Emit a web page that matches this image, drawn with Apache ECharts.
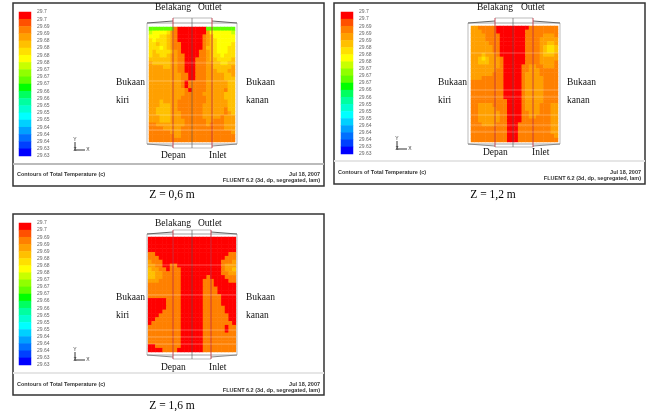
<!DOCTYPE html>
<html>
<head>
<meta charset="utf-8">
<style>
  html, body { margin: 0; background: #fff; }
  /* the reference is a soft scan-like bitmap */
  #chart { width: 648px; height: 411px; filter: blur(0.45px); }
</style>
<script src="https://cdn.jsdelivr.net/npm/echarts@6/dist/echarts.min.js"></script>
</head>
<body>
<div id="chart"></div>
<script>
// colour band letters, a = hottest band at the top of the legend
const bandLetters = 'abcdefghijklmnopqrst'.split('')
const bandColors = ['#ff0000', '#ff5000', '#ff8000', '#ffa000', '#ffc000', '#ffe000', '#ffff00', '#c8ff00', '#90ff00', '#60ff00',
  '#00ff00', '#00ff60', '#00ffa0', '#00ffd0', '#00ffff', '#00d0ff', '#00a0ff', '#0070ff', '#0040ff', '#0000ff']

const ticks06 = ['29.7', '29.7', '29.69', '29.69', '29.68', '29.68', '29.68', '29.68', '29.67', '29.67', '29.67',
  '29.66', '29.66', '29.65', '29.65', '29.65', '29.64', '29.64', '29.64', '29.63', '29.63']
const ticks12 = ['29.7', '29.7', '29.69', '29.69', '29.69', '29.68', '29.68', '29.68', '29.67', '29.67', '29.67',
  '29.66', '29.66', '29.65', '29.65', '29.65', '29.64', '29.64', '29.64', '29.63', '29.63']
const ticks16 = ['29.7', '29.7', '29.69', '29.69', '29.69', '29.68', '29.68', '29.68', '29.67', '29.67', '29.67',
  '29.66', '29.66', '29.65', '29.65', '29.65', '29.64', '29.64', '29.64', '29.63', '29.63']

// temperature bands, one string per row, top row first
const field06 = [
  'jjjjjjjcaaaaaaaajjjjjjjj',
  'hggggfdcaaaaaaaadggggggh',
  'gggffedcaaaaaaacdegggggg',
  'fgfffedcaaaaaaacdefggggg',
  'ffeffedccaaaaaacdefggggf',
  'fffgfedccaaaaaaceefgggff',
  'feffffedcaaaaaccdefgggff',
  'feeffeddccaaaaccdeffgfff',
  'eeeeeeddccaaacccdeeffffe',
  'deeeeeddccaaacccddeeffee',
  'ddddeeddccaaacccddeeeeed',
  'ddddddddccaaacccdddeeedd',
  'dddddddddccaacccdddddeed',
  'dddddddddccaacccdddddeee',
  'dddddddddcacccccddddddee',
  'dddddddddcacccccddddddee',
  'ddddddddddcaccccdddddcee',
  'ddddddddddcccccddddddeee',
  'dddddddddcccccccdddddeee',
  'dddeddddccccccccddddddee',
  'dddeeeddcccccccdddddddee',
  'ddeeeeddcccccccddddddcee',
  'ddeeeedddccccccddddddcde',
  'dddeeedddccccccdddddcddd',
  'dddeeeddddccccccddcccddd',
  'ccddddddddccccccdccccddd',
  'ccccdddddccccccccccccddd',
  'ccccccdddccccccccccccccd',
  'cccccccddccccccccccccccc',
  'cccccccccccccccccccccccc'
]
const field12 = [
  'ddcccccaaaaaaaaacccccccc',
  'dddccccaaaaaaaaccccccccc',
  'ddddccccaaaaaaacccccdddc',
  'ddddccccaaaaaaaccccddddd',
  'dddddcccaaaaaaaccccddeed',
  'ddddddccaaaaaaaccccdeffe',
  'ddddddccaaaaaaaccccdeffe',
  'dddedddcaaaaaaaccccdeeed',
  'ddefedddcaaaaaaccccddddd',
  'ddeeedddcaaaaaaccccddddc',
  'ddddddddcaaaaaccddccdddc',
  'dddddddccaaaaaccdddccccc',
  'ddddddcccaaaaacddddccccc',
  'dddccccccaaaaacdddddcccc',
  'cccccccccaaaaacdddddcccc',
  'cccccccccaaaaacdddddcccc',
  'cccccccccaaaaacdddddcccc',
  'cccccccccaaaaacdddddcccc',
  'cccccccccaaaaacdddddcccc',
  'ccccccccccaaaacdddddcccc',
  'ccddddccccaaaacddddcccdd',
  'ccdddddcccaaaacddddcccdd',
  'ccddddddccaaaaccdddcccdd',
  'ccddddddccaaaaccddccccdd',
  'ccddddddccaaaaccccccccdd',
  'cccddddcccaaacccccccccdd',
  'ccccccccccaaacccccccccdd',
  'ccccccccccaaacccccccccdd',
  'ccccccccccaaaccccccccccd',
  'ccccccccccaaaccccccccccc'
]
const field16 = [
  'aaaaaaaaaaaaaaaaaaaaaaaa',
  'aaaaaaaaaaaaaaaaaaaaaaaa',
  'aaaaaaaaaaaaaaaaaaaaaaaa',
  'aaaaaaaaaaaaaaaaaaaaaaaa',
  'ccaaaaaaaaaaaaaaaaaaaacc',
  'cccaaaaaaaaaaaaaaaaaaccc',
  'dcccaaaaaaaaaaaaaaaacccd',
  'ddccaaccaaaaaaaaaaaacddd',
  'eddccacccaaaaaaaaaaacdde',
  'eeddcccccaaaaaaaaaaaccdd',
  'eeddcccccaaaaaaacaaaaccc',
  'dddccccccaaaaaacccaaaacc',
  'cccccccccaaaaaacccaaaaaa',
  'cccccccccaaaaaaccccaaaaa',
  'cccccccccaaaaaaccccaaaaa',
  'cccccccccaaaaaacccccaaaa',
  'aaaaaccccaaaaaacccccaaaa',
  'aaaaaccccaaaaaacccccaaaa',
  'aaaaaccccaaaaaaccccccaaa',
  'aaaacccccaaaaaaccccccaaa',
  'aaaccccccaaaaaacccccccaa',
  'aacccccccaaaaaacccccccaa',
  'accccccccaaaaaacccccccca',
  'cccccccccaaaaaaccccccacc',
  'cccccccccaaaaaaccccccacc',
  'cccccccccaaaaaaccccccccc',
  'cccccccccaaaaaaccccccccc',
  'cccccccccaaaaaaccccccccc',
  'aacccccccaaaaaaccccccccc',
  'aaaaccccaaaaaaaccccccccc'
]

const panels = [
  { field: field06, ticks: ticks06, caption: 'Z = 0,6 m', box: [13, 3, 311, 183], sep: 164, sepColor: '#bbb', bar: [19, 12, 12, 144], map: [149, 27, 86, 115], capX: 172, capY: 195, wire: [147, 237, 23, 144, 173, 212, 192, 18, 148], axes: [75, 150], belakang: [155, 198, 7], depan: [161, 209, 155], side: [116, 246, 82, 100], whites: [63, 81, 115, 125, 130], leftY: 174 },
  { field: field12, ticks: ticks12, caption: 'Z = 1,2 m', box: [334, 3, 311, 181], sep: 161, sepColor: '#e6e6e6', bar: [341, 12, 12, 142], map: [471, 26, 87, 116], capX: 493, capY: 195, wire: [468, 560, 23, 144, 495, 533, 513, 18, 147], axes: [397, 149], belakang: [477, 521, 7], depan: [483, 532, 152], side: [438, 567, 82, 100], whites: [53, 90, 97, 115, 125, 132], leftY: 172 },
  { field: field16, ticks: ticks16, caption: 'Z = 1,6 m', box: [13, 214, 311, 181], sep: 373, sepColor: '#e6e6e6', bar: [19, 223, 12, 142], map: [148, 237, 88, 115], capX: 172, capY: 406, wire: [147, 237, 234, 355, 173, 211, 192, 230, 359], axes: [75, 360], belakang: [155, 198, 223], depan: [161, 209, 367], side: [116, 246, 297, 315], whites: [265, 295, 330, 337, 344], leftY: 384 }
]

const range = n => Array.from({ length: n }, (_, i) => i)
const serif = '"Liberation Serif", serif'
const sans = '"Liberation Sans", sans-serif'

const grid = [], xAxis = [], yAxis = [], series = [], graphic = []

const hiddenAxis = (n, gridIndex, extra) => Object.assign({ type: 'category', data: range(n), gridIndex, show: false }, extra)

const text = (x, y, str, font, size, color, align, weight) => ({
  type: 'text', x, y, z: 20, silent: true,
  style: { text: str, fill: color, fontFamily: font, fontSize: size, fontWeight: weight || 'normal', align: align || 'left', verticalAlign: 'middle' }
})
const line = (x1, y1, x2, y2, stroke, width, opacity) => ({
  type: 'line', z: 10, silent: true,
  shape: { x1, y1, x2, y2 }, style: { stroke, lineWidth: width || 1, opacity: opacity === undefined ? 1 : opacity }
})

panels.forEach(p => {
  const [bx, by, bw, bh] = p.box
  graphic.push({ type: 'rect', z: 9, silent: true, shape: { x: bx, y: by, width: bw, height: bh }, style: { fill: 'none', stroke: '#333', lineWidth: 1.5 } })
  graphic.push(line(bx, p.sep, bx + bw, p.sep, p.sepColor, 2))

  // legend: 20 colour cells, 21 tick labels on the band edges
  const barGrid = grid.length
  grid.push({ left: p.bar[0], top: p.bar[1], width: p.bar[2], height: p.bar[3] })
  xAxis.push(hiddenAxis(1, barGrid))
  const barAxis = yAxis.length
  yAxis.push(hiddenAxis(20, barGrid, { inverse: true }))
  yAxis.push({
    type: 'category', data: p.ticks, gridIndex: barGrid, position: 'right', inverse: true, boundaryGap: false,
    axisLine: { show: false }, axisTick: { show: false },
    axisLabel: { interval: 0, margin: 6, fontSize: 5, color: '#666', fontFamily: sans }
  })
  series.push({
    type: 'heatmap', xAxisIndex: barGrid, yAxisIndex: barAxis, silent: true,
    data: range(20).map(i => [0, i, i])
  })

  // contour field
  const mapGrid = grid.length
  grid.push({ left: p.map[0], top: p.map[1], width: p.map[2], height: p.map[3] })
  xAxis.push(hiddenAxis(24, mapGrid))
  const mapAxis = yAxis.length
  yAxis.push(hiddenAxis(p.field.length, mapGrid, { inverse: true }))
  const cells = []
  p.field.forEach((row, r) => row.split('').forEach((ch, c) => cells.push([c, r, bandLetters.indexOf(ch)])))
  series.push({ type: 'heatmap', xAxisIndex: mapGrid, yAxisIndex: mapAxis, silent: true, data: cells })

  // wireframe of the room over the contours
  const [wl, wr, wt, wb, rl, rr, mid, vt, vb] = p.wire
  graphic.push(line(wl, wt, wr, wt, '#aaa'), line(wl, wb, wr, wb, '#aaa'), line(wl, wt, wl, wb, '#bbb'), line(wr, wt, wr, wb, '#bbb'))
  graphic.push(line(wl, wt, rl, wt - 2, '#666'), line(rr, wt - 2, wr, wt, '#666'), line(wl, wb, rl, wb + 2, '#888'), line(rr, wb + 2, wr, wb, '#888'))
  graphic.push(line(rl, vt, rr, vt, '#bbb'), line(rl, vb, rr, vb, '#bbb'), line(rl, wt, rr, wt, '#ccc'), line(rl, wb, rr, wb, '#ccc'))
  graphic.push(line(rl, vt, rl, vb, '#c03040', 1, 0.85), line(rr, vt, rr, vb, '#c03040', 1, 0.85), line(mid, vt, mid, vb, '#555', 1, 0.6))
  p.whites.forEach(y => graphic.push(line(p.map[0], y, p.map[0] + p.map[2], y, '#fff', 1, 0.3)))

  // room labels
  graphic.push(text(p.belakang[0], p.belakang[2], 'Belakang', serif, 9.5, '#111'))
  graphic.push(text(p.belakang[1], p.belakang[2], 'Outlet', serif, 9.5, '#111'))
  graphic.push(text(p.depan[0], p.depan[2], 'Depan', serif, 9.5, '#111'))
  graphic.push(text(p.depan[1], p.depan[2], 'Inlet', serif, 9.5, '#111'))
  graphic.push(text(p.side[0], p.side[2], 'Bukaan', serif, 9.5, '#111'))
  graphic.push(text(p.side[0], p.side[3], 'kiri', serif, 9.5, '#111'))
  graphic.push(text(p.side[1], p.side[2], 'Bukaan', serif, 9.5, '#111'))
  graphic.push(text(p.side[1], p.side[3], 'kanan', serif, 9.5, '#111'))

  // xyz triad
  const [ax, ay] = p.axes
  graphic.push(line(ax, ay, ax, ay - 8, '#333'), line(ax, ay, ax + 10, ay, '#333'))
  graphic.push(text(ax, ay - 10, 'Y', sans, 5, '#333', 'center'))
  graphic.push(text(ax, ay, 'Z', sans, 5, '#333', 'center'))
  graphic.push(text(ax + 13, ay, 'X', sans, 5, '#333', 'center'))

  // FLUENT footer
  const right = bx + bw - 4
  graphic.push(text(bx + 4, p.leftY, 'Contours of Total Temperature (c)', sans, 5.5, '#333', 'left', 'bold'))
  graphic.push(text(right, p.leftY, 'Jul 18, 2007', sans, 5.5, '#333', 'right', 'bold'))
  graphic.push(text(right, p.leftY + 6, 'FLUENT 6.2 (3d, dp, segregated, lam)', sans, 5.5, '#333', 'right', 'bold'))

  graphic.push(text(p.capX, p.capY, p.caption, serif, 11.5, '#000', 'center'))
})

const chart = echarts.init(document.getElementById('chart'))
chart.setOption({
  animation: false,
  backgroundColor: '#fff',
  grid, xAxis, yAxis, series, graphic,
  visualMap: {
    type: 'piecewise', show: false, dimension: 2,
    pieces: bandColors.map((color, value) => ({ value, color }))
  }
})
</script>
</body>
</html>
